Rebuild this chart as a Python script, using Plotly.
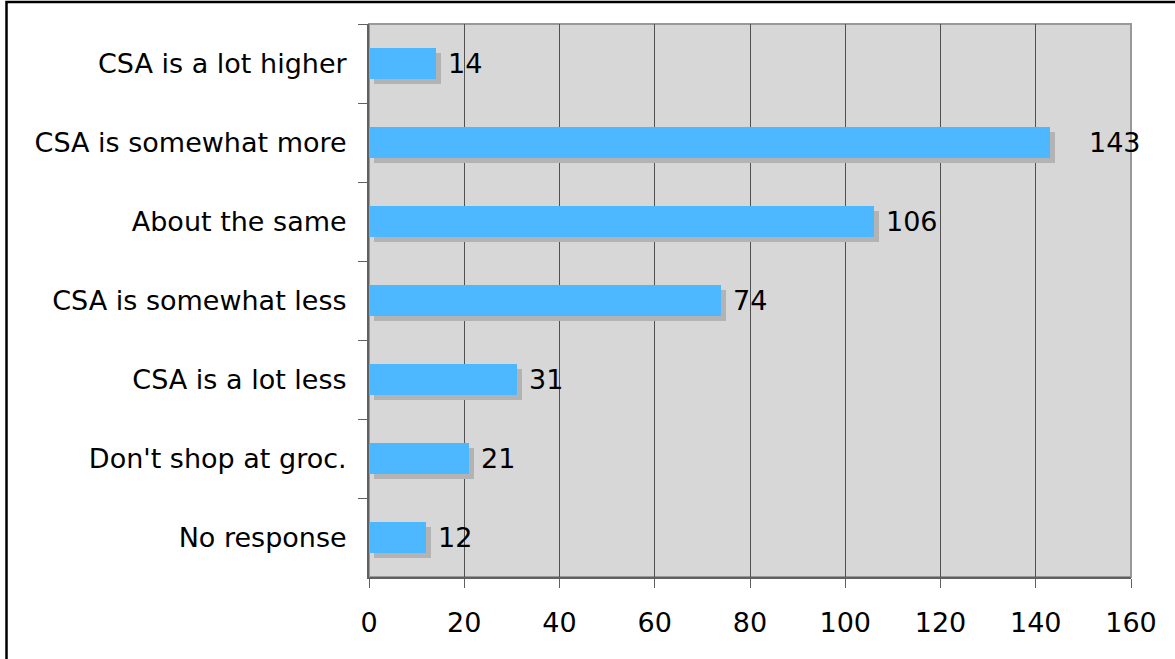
import plotly.graph_objects as go

categories = ["CSA is a lot higher", "CSA is somewhat more", "About the same",
              "CSA is somewhat less", "CSA is a lot less", "Don't shop at groc.",
              "No response"]
counts = [14, 143, 106, 74, 31, 21, 12]
x_ticks = [0, 20, 40, 60, 80, 100, 120, 140, 160]

W, H = 1175, 659
L, R, T, B = 369, 44, 24, 82
plot_w = W - L - R
plot_h = H - T - B
px_per_unit = plot_w / 160.0
cat_px = plot_h / len(categories)

bar_w = 31 / cat_px
shadow_dx = 5 / px_per_unit
shadow_dy = 5 / cat_px

FONT = "DejaVu Sans"
FS = 27
fig = go.Figure()

fig.add_trace(go.Bar(
    y=categories, x=counts, base=shadow_dx, orientation="h",
    width=bar_w, offset=-bar_w / 2 + shadow_dy,
    marker=dict(color="#b3b3b3", line=dict(width=0)),
    hoverinfo="skip", showlegend=False))
fig.add_trace(go.Bar(
    y=categories, x=counts, orientation="h",
    width=bar_w, offset=-bar_w / 2,
    marker=dict(color="#4db8ff", line=dict(width=0)),
    showlegend=False))

for c, v in zip(categories, counts):
    shift = 37 if v == max(counts) else 10
    fig.add_annotation(x=v, y=c, text=str(v), showarrow=False,
                       xanchor="left", yanchor="middle", xshift=shift,
                       font=dict(family=FONT, size=FS, color="black"))

# plot frame (top/right gray)
fig.add_shape(type="rect", xref="paper", yref="paper", x0=0, y0=0, x1=1, y1=1,
              line=dict(color="#999999", width=2), layer="below")
# outer black border
fig.add_shape(type="rect", xref="paper", yref="paper",
              x0=(6.5 - L) / plot_w, x1=(W + 10 - L) / plot_w,
              y0=(H - B - (H + 10)) / plot_h, y1=(H - B - 2) / plot_h,
              line=dict(color="black", width=2.5))

fig.update_layout(
    width=W, height=H,
    margin=dict(l=L, r=R, t=T, b=B),
    paper_bgcolor="white", plot_bgcolor="#d7d7d7",
    barmode="overlay", bargap=0,
    font=dict(family=FONT, size=FS, color="black"),
    xaxis=dict(range=[0, 160], tickvals=x_ticks, ticktext=[str(t) for t in x_ticks],
               showgrid=True, gridcolor="#505050", gridwidth=1,
               zeroline=False, showline=True, linecolor="#606060", linewidth=2,
               ticks="outside", ticklen=9, tickcolor="#606060", tickwidth=1,
               ticklabelstandoff=12,
               tickfont=dict(family=FONT, size=FS), fixedrange=True),
    yaxis=dict(type="category", categoryorder="array", categoryarray=categories,
               autorange="reversed", tickson="boundaries",
               showgrid=False, zeroline=False, showline=True,
               linecolor="#606060", linewidth=2,
               ticks="outside", ticklen=9, tickcolor="#606060", tickwidth=1,
               ticklabelstandoff=15,
               tickfont=dict(family=FONT, size=FS), fixedrange=True),
)

fig.write_html("out.html")
